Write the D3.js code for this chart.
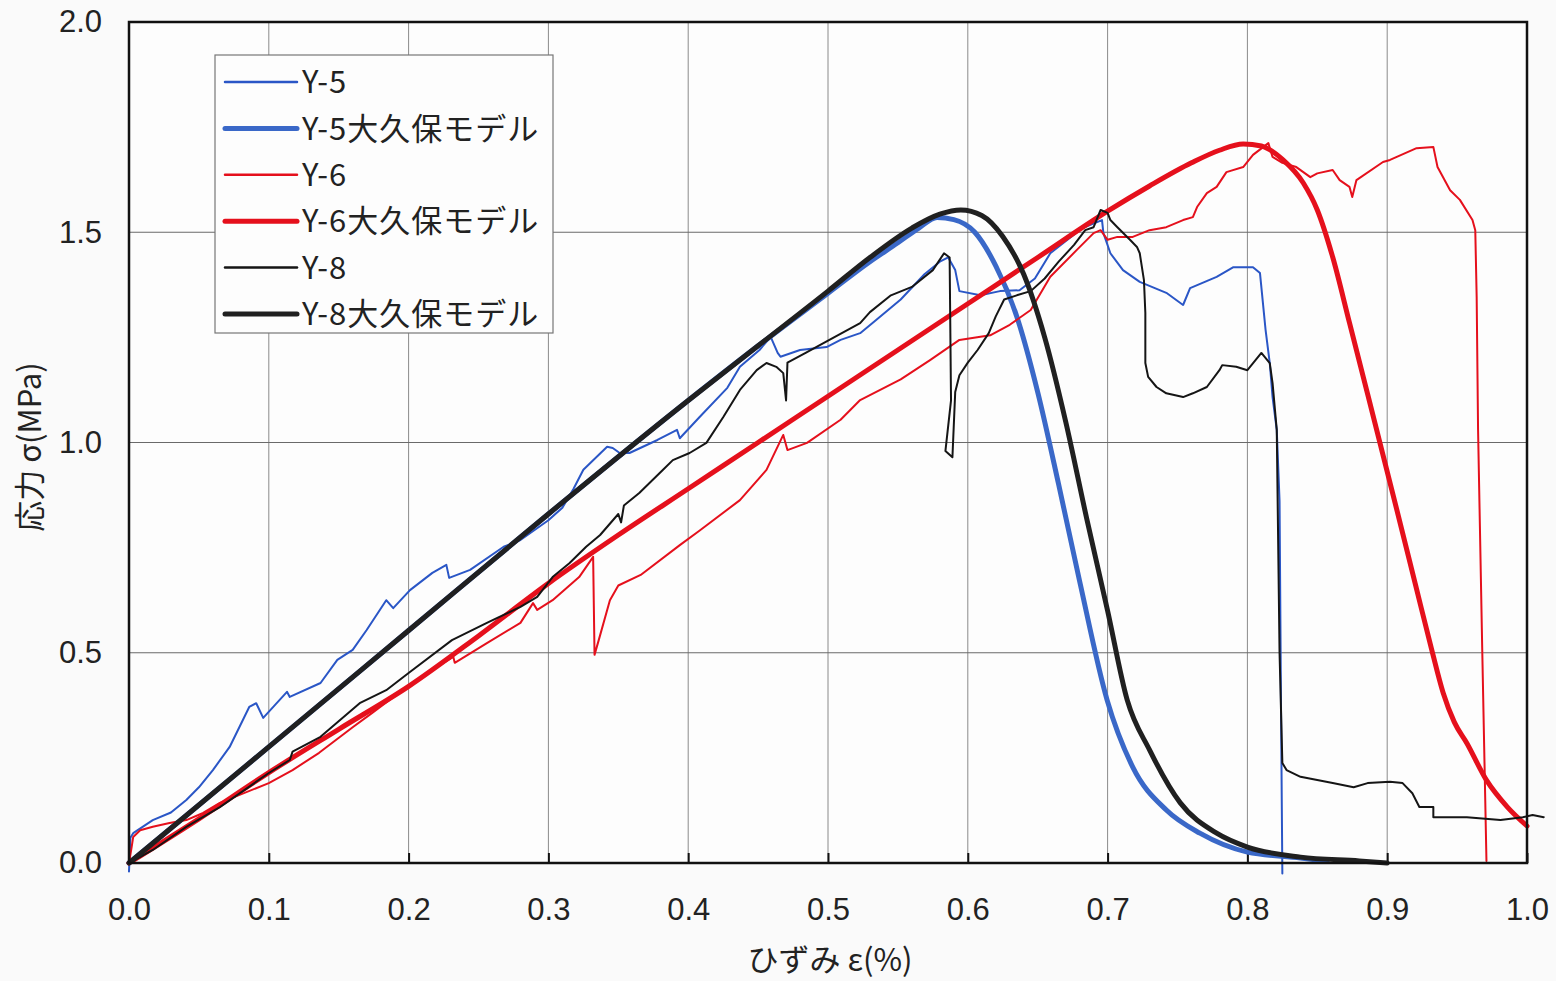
<!DOCTYPE html>
<html><head><meta charset="utf-8">
<script src="https://cdn.jsdelivr.net/npm/d3@7"></script>
<style>
html,body{margin:0;padding:0;background:#fafafa;}
svg{display:block;}
</style></head>
<body>
<svg id="chart" width="1556" height="981"></svg>
<script>
// ---- data (strain %, stress MPa) ----
const xTickValues = [0,0.1,0.2,0.3,0.4,0.5,0.6,0.7,0.8,0.9,1.0];
const yTickValues = [0,0.5,1.0,1.5,2.0];
const seriesNames = ["Y-5","Y-5大久保モデル","Y-6","Y-6大久保モデル","Y-8","Y-8大久保モデル"];

const y5 = [[0,-0.02],[0.001,0.06],[0.003,0.071],[0.017,0.102],[0.03,0.12],[0.041,0.15],[0.05,0.18],[0.06,0.221],[0.072,0.276],[0.086,0.371],[0.091,0.38],[0.096,0.345],[0.113,0.407],[0.115,0.395],[0.137,0.428],[0.149,0.483],[0.160,0.507],[0.170,0.554],[0.184,0.625],[0.189,0.606],[0.201,0.649],[0.217,0.69],[0.227,0.709],[0.229,0.678],[0.244,0.697],[0.268,0.752],[0.280,0.768],[0.30,0.815],[0.31,0.845],[0.318,0.89],[0.325,0.935],[0.342,0.99],[0.346,0.987],[0.351,0.975],[0.358,0.975],[0.378,1.006],[0.392,1.03],[0.394,1.01],[0.408,1.06],[0.428,1.13],[0.437,1.18],[0.451,1.22],[0.459,1.251],[0.464,1.213],[0.466,1.204],[0.48,1.22],[0.499,1.227],[0.509,1.244],[0.523,1.26],[0.534,1.29],[0.552,1.34],[0.569,1.40],[0.58,1.43],[0.586,1.44],[0.591,1.41],[0.594,1.36],[0.609,1.35],[0.623,1.36],[0.637,1.362],[0.648,1.39],[0.659,1.45],[0.682,1.51],[0.696,1.529],[0.697,1.498],[0.702,1.45],[0.711,1.41],[0.723,1.382],[0.742,1.356],[0.754,1.327],[0.759,1.367],[0.778,1.394],[0.79,1.417],[0.804,1.417],[0.809,1.403],[0.813,1.268],[0.816,1.189],[0.818,1.108],[0.821,1.03],[0.823,0.86],[0.824,0.39],[0.825,-0.025]];

const y5Model = [[0,0],[0.1,0.276],[0.2,0.553],[0.3,0.83],[0.4,1.10],[0.45,1.23],[0.5,1.355],[0.53,1.43],[0.55,1.475],[0.565,1.51],[0.578,1.535],[0.59,1.53],[0.605,1.50],[0.62,1.42],[0.635,1.30],[0.65,1.12],[0.665,0.9],[0.68,0.67],[0.6996,0.388],[0.718,0.228],[0.742,0.126],[0.766,0.071],[0.80,0.026],[0.838,0.012],[0.857,0.004]];

const y6 = [[0,0],[0.002,0.04],[0.003,0.062],[0.008,0.078],[0.017,0.086],[0.029,0.095],[0.041,0.102],[0.053,0.119],[0.065,0.143],[0.1,0.19],[0.117,0.221],[0.136,0.262],[0.16,0.323],[0.174,0.357],[0.199,0.419],[0.22,0.466],[0.232,0.49],[0.233,0.476],[0.256,0.523],[0.28,0.571],[0.289,0.618],[0.292,0.602],[0.303,0.625],[0.322,0.68],[0.332,0.728],[0.333,0.495],[0.336,0.53],[0.344,0.625],[0.35,0.66],[0.366,0.685],[0.394,0.756],[0.408,0.79],[0.437,0.863],[0.456,0.935],[0.468,1.018],[0.471,0.982],[0.485,0.999],[0.509,1.054],[0.523,1.101],[0.552,1.15],[0.573,1.196],[0.594,1.244],[0.616,1.255],[0.63,1.28],[0.645,1.315],[0.659,1.394],[0.678,1.458],[0.69,1.498],[0.695,1.505],[0.70,1.482],[0.707,1.489],[0.718,1.489],[0.73,1.505],[0.742,1.512],[0.754,1.529],[0.761,1.536],[0.764,1.56],[0.771,1.593],[0.778,1.608],[0.785,1.643],[0.797,1.655],[0.804,1.684],[0.815,1.712],[0.818,1.679],[0.825,1.665],[0.835,1.655],[0.845,1.631],[0.85,1.64],[0.861,1.648],[0.866,1.624],[0.873,1.608],[0.875,1.584],[0.878,1.624],[0.897,1.667],[0.902,1.672],[0.921,1.70],[0.933,1.703],[0.936,1.655],[0.945,1.60],[0.952,1.577],[0.961,1.529],[0.963,1.505],[0.964,1.346],[0.965,1.03],[0.968,0.505],[0.971,0.005]];

const y6Model = [[0,0],[0.05,0.105],[0.1,0.215],[0.15,0.318],[0.2,0.42],[0.25,0.54],[0.3,0.665],[0.35,0.78],[0.4,0.89],[0.45,1.0],[0.5,1.11],[0.55,1.22],[0.6,1.33],[0.65,1.44],[0.7,1.55],[0.73,1.61],[0.76,1.665],[0.78,1.695],[0.797,1.71],[0.81,1.705],[0.8255,1.672],[0.84,1.617],[0.85,1.553],[0.861,1.441],[0.873,1.285],[0.886,1.115],[0.905,0.865],[0.92,0.665],[0.932,0.505],[0.94,0.405],[0.948,0.335],[0.957,0.285],[0.971,0.197],[0.986,0.133],[1.0,0.088]];

const y8 = [[0,0],[0.003,0.005],[0.017,0.031],[0.041,0.086],[0.065,0.133],[0.1,0.214],[0.115,0.245],[0.117,0.265],[0.137,0.30],[0.165,0.38],[0.184,0.411],[0.2,0.452],[0.231,0.53],[0.256,0.571],[0.28,0.609],[0.292,0.633],[0.303,0.68],[0.315,0.713],[0.327,0.752],[0.337,0.78],[0.35,0.83],[0.352,0.81],[0.354,0.85],[0.365,0.88],[0.382,0.935],[0.389,0.958],[0.401,0.975],[0.413,0.999],[0.425,1.06],[0.437,1.125],[0.449,1.172],[0.456,1.189],[0.463,1.18],[0.468,1.165],[0.470,1.10],[0.471,1.19],[0.484,1.213],[0.501,1.244],[0.523,1.284],[0.53,1.31],[0.545,1.35],[0.56,1.37],[0.575,1.41],[0.583,1.45],[0.587,1.44],[0.588,1.10],[0.584,0.98],[0.589,0.965],[0.591,1.12],[0.594,1.16],[0.60,1.19],[0.607,1.22],[0.615,1.26],[0.62,1.30],[0.626,1.34],[0.635,1.35],[0.645,1.36],[0.655,1.39],[0.665,1.43],[0.676,1.47],[0.684,1.505],[0.69,1.512],[0.695,1.553],[0.70,1.546],[0.702,1.529],[0.707,1.512],[0.716,1.482],[0.721,1.465],[0.723,1.45],[0.726,1.386],[0.727,1.308],[0.727,1.189],[0.729,1.156],[0.735,1.132],[0.742,1.117],[0.754,1.108],[0.761,1.117],[0.771,1.132],[0.78,1.172],[0.782,1.184],[0.792,1.18],[0.80,1.172],[0.81,1.213],[0.816,1.189],[0.818,1.141],[0.821,1.03],[0.823,0.5],[0.825,0.238],[0.828,0.221],[0.838,0.205],[0.861,0.19],[0.876,0.18],[0.886,0.19],[0.902,0.193],[0.911,0.19],[0.918,0.166],[0.923,0.133],[0.933,0.133],[0.933,0.109],[0.957,0.109],[0.981,0.102],[0.997,0.109],[1.004,0.114],[1.012,0.109]];

const y8Model = [[0,0],[0.1,0.276],[0.2,0.553],[0.3,0.83],[0.4,1.10],[0.45,1.23],[0.5,1.36],[0.53,1.44],[0.56,1.51],[0.58,1.543],[0.595,1.553],[0.61,1.54],[0.625,1.49],[0.64,1.40],[0.655,1.25],[0.67,1.05],[0.685,0.82],[0.70,0.6],[0.714,0.388],[0.73,0.269],[0.752,0.143],[0.778,0.071],[0.80,0.038],[0.838,0.014],[0.88,0.005],[0.9,0.0]];

// ---- styles ----
const seriesData = [y5, y5Model, y6, y6Model, y8, y8Model];
const seriesColor = ["#2a56c6","#3a68c8","#e5101c","#e5101c","#151515","#202020"];
const seriesWidth = [2, 5, 2, 5, 2, 5];
const seriesSmooth = [false, true, false, true, false, true];

const svg = d3.select("#chart");
const L = 129, R = 1527, T = 22, B = 863;
const x = d3.scaleLinear().domain([0,1]).range([L,R]);
const y = d3.scaleLinear().domain([0,2]).range([B,T]);

svg.append("rect").attr("x",0).attr("y",0).attr("width",1556).attr("height",981).attr("fill","#fafafa");
svg.append("rect").attr("x",L).attr("y",T).attr("width",R-L).attr("height",B-T).attr("fill","#fdfdfd");

// gridlines
svg.append("g").selectAll("line").data(xTickValues.filter(v=>v>0&&v<1)).join("line")
  .attr("x1",d=>x(d)).attr("x2",d=>x(d)).attr("y1",T).attr("y2",B)
  .attr("stroke","#8a8a8a").attr("stroke-width",1);
svg.append("g").selectAll("line").data(yTickValues.filter(v=>v>0&&v<2)).join("line")
  .attr("x1",L).attr("x2",R).attr("y1",d=>y(d)).attr("y2",d=>y(d))
  .attr("stroke","#6a6a6a").attr("stroke-width",1.2);

// axes
const fmt = d3.format(".1f");
const tickFont = "'Liberation Sans Narrow','Arial Narrow','Liberation Sans',sans-serif";
const xAxis = svg.append("g").attr("transform",`translate(0,${B})`)
  .call(d3.axisBottom(x).tickValues(xTickValues).tickFormat(fmt).tickSizeInner(-10).tickSizeOuter(0).tickPadding(46));
xAxis.select(".domain").remove();
xAxis.selectAll(".tick line").attr("stroke","#111").attr("stroke-width",2);
xAxis.selectAll("text").attr("font-family",tickFont)
  .attr("font-size",31).attr("fill","#222").attr("dy","0.35em");

const yAxis = svg.append("g").attr("transform",`translate(${L},0)`)
  .call(d3.axisLeft(y).tickValues(yTickValues).tickFormat(fmt).tickSizeInner(0).tickSizeOuter(0).tickPadding(27));
yAxis.select(".domain").remove();
yAxis.selectAll("text").attr("font-family",tickFont)
  .attr("font-size",31).attr("fill","#222");

// series lines
const lineLin = d3.line().x(d=>x(d[0])).y(d=>y(d[1]));
const lineSmooth = d3.line().x(d=>x(d[0])).y(d=>y(d[1])).curve(d3.curveMonotoneX);
seriesData.forEach((data,i)=>{
  svg.append("path").datum(data).attr("d",seriesSmooth[i]?lineSmooth:lineLin).attr("fill","none")
    .attr("stroke",seriesColor[i]).attr("stroke-width",seriesWidth[i])
    .attr("stroke-linejoin","round").attr("stroke-linecap","round");
});

// plot border
svg.append("rect").attr("x",L).attr("y",T).attr("width",R-L).attr("height",B-T)
  .attr("fill","none").attr("stroke","#111").attr("stroke-width",2.5);

// legend
const lg = svg.append("g");
lg.append("rect").attr("x",215).attr("y",55).attr("width",338).attr("height",278)
  .attr("fill","#fdfdfd").attr("stroke","#777").attr("stroke-width",1.2);
const ly = d3.scalePoint().domain(seriesNames).range([82,314]);
seriesNames.forEach((n,i)=>{
  lg.append("line").attr("x1",225).attr("x2",297).attr("y1",ly(n)).attr("y2",ly(n))
    .attr("stroke",seriesColor[i]).attr("stroke-width",seriesWidth[i]===2?2.5:5).attr("stroke-linecap","round");
  lg.append("text").attr("x",302).attr("y",ly(n)).attr("dy","0.36em")
    .attr("font-family","'Noto Sans CJK JP','Liberation Sans',sans-serif").attr("font-size",31)
    .attr("letter-spacing","1px").attr("fill","#222").text(n);
});

// axis titles
svg.append("text").attr("x",830).attr("y",960).attr("text-anchor","middle").attr("dy","0.35em")
  .attr("font-family","'Noto Sans CJK JP',sans-serif").attr("font-size",31).attr("fill","#222")
  .text("ひずみ ε(%)");
svg.append("text").attr("transform","translate(30,447) rotate(-90)").attr("text-anchor","middle").attr("dy","0.35em")
  .attr("font-family","'Noto Sans CJK JP',sans-serif").attr("font-size",31).attr("fill","#222")
  .text("応力 σ(MPa)");
</script>
</body></html>
